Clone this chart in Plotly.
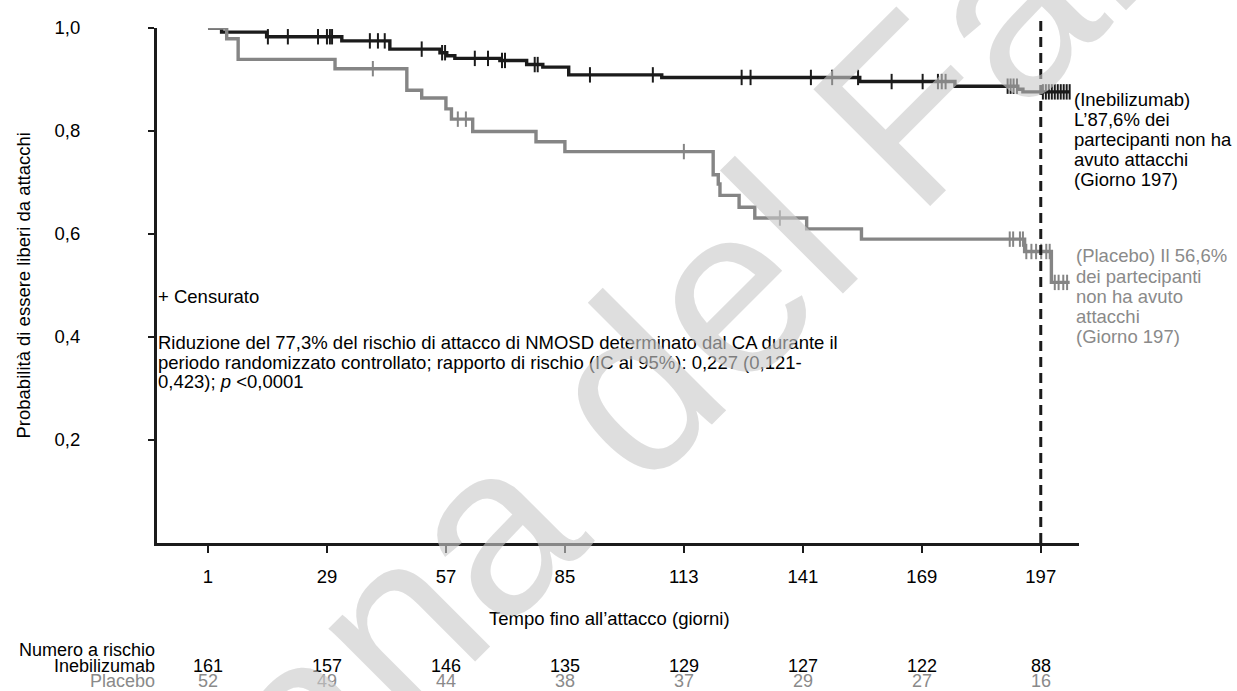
import numpy as np
import plotly.graph_objects as go

# ---------------- data ----------------
tick_days = [1, 29, 57, 85, 113, 141, 169, 197]
tick_labels = ["1", "29", "57", "85", "113", "141", "169", "197"]
y_ticks = [0.2, 0.4, 0.6, 0.8, 1.0]
y_tick_labels = ["0,2", "0,4", "0,6", "0,8", "1,0"]

start_day = 1
end_day = 203.8

ineb_event_days = [4.2, 14.8, 32.5, 43.8, 55.6, 57.2, 59.1, 69.7, 76.0, 79.8,
                   85.9, 107.8, 154.4, 176.8, 191.6, 192.8]
ineb_surv = [0.992, 0.983, 0.975, 0.959, 0.952, 0.946, 0.941, 0.937, 0.929, 0.924,
             0.909, 0.904, 0.896, 0.887, 0.881, 0.876]
ineb_censor_days = [15.1, 19.8, 26.9, 29.0, 29.7, 30.2, 39.1, 41.0, 42.6, 51.3,
                    56.1, 56.8, 63.8, 66.9, 70.2, 70.9, 77.9, 78.6, 90.9, 105.7,
                    126.6, 128.7, 142.9, 147.9, 154.0, 161.9, 169.2, 172.8, 173.7,
                    174.6, 189.2, 189.9, 190.6, 191.4, 197.5, 198.2, 198.9, 199.6,
                    200.3, 201.0, 201.7, 202.4, 203.1, 203.8]

plac_event_days = [5.4, 8.1, 30.9, 47.8, 51.3, 57.0, 58.3, 63.3, 78.2, 85.0,
                   119.9, 121.1, 121.5, 126.0, 129.7, 141.9, 154.8, 193.2, 199.5]
plac_surv = [0.979, 0.939, 0.921, 0.879, 0.864, 0.843, 0.823, 0.799, 0.779, 0.760,
             0.715, 0.697, 0.675, 0.652, 0.631, 0.610, 0.590, 0.566, 0.506]
plac_censor_days = [39.8, 59.8, 61.7, 113.0, 135.6, 189.7, 190.5, 192.1, 192.8,
                    193.6, 194.8, 195.9, 197.1, 198.3, 199.1,
                    200.3, 201.2, 202.3, 203.2]

at_risk_ineb = [161, 157, 146, 135, 129, 127, 122, 88]
at_risk_plac = [52, 49, 44, 38, 37, 29, 27, 16]

watermark_text = "Agenzia Italiana del Farmaco"

BLACK = "#1b1b1b"
GREY = "#858585"
GREY_TXT = "#8a8a8a"
FONT = "Liberation Sans, Arial, sans-serif"
FS = 18.5

# ---------------- layout geometry ----------------
W, H = 1237, 691
L, R, T, B = 157, 158, 28, 148
PW, PH = W - L - R, H - T - B


def px(xp):
    return (xp - L) / PW


def py(yp):
    return (H - B - yp) / PH


def steps(days, surv):
    xs = [start_day] + list(days) + [end_day]
    ys = [1.0] + list(surv) + [surv[-1]]
    return xs, ys


def surv_at(t, days, surv):
    idx = np.searchsorted(np.array(days), t, side="right")
    return 1.0 if idx == 0 else surv[idx - 1]


fig = go.Figure()

for days, surv, cens, col, name in [
    (ineb_event_days, ineb_surv, ineb_censor_days, BLACK, "Inebilizumab"),
    (plac_event_days, plac_surv, plac_censor_days, GREY, "Placebo"),
]:
    xs, ys = steps(days, surv)
    fig.add_trace(go.Scatter(x=xs, y=ys, mode="lines", line=dict(color=col, width=3.4, shape="hv"),
                             name=name, showlegend=False, hoverinfo="skip"))
    fig.add_trace(go.Scatter(x=cens, y=[surv_at(c, days, surv) for c in cens], mode="markers",
                             marker=dict(symbol="line-ns-open", size=11, color=col,
                                         line=dict(color=col, width=2)),
                             showlegend=False, hoverinfo="skip"))

# dashed line at day 197
fig.add_shape(type="line", xref="x", yref="paper", x0=197, x1=197, y0=0, y1=py(20),
              line=dict(color=BLACK, width=3, dash="10px,6px"))

ann = []


def text(x, y, s, color="black", xanchor="left", xref="paper", size=FS, **kw):
    ann.append(dict(x=x, y=y, xref=xref, yref="paper", text=s, showarrow=False,
                    xanchor=xanchor, yanchor="middle",
                    font=dict(family=FONT, size=size, color=color), **kw))


# left texts
text(px(156), py(296), "+ Censurato")
text(px(156), py(342), "Riduzione del 77,3% del rischio di attacco di NMOSD determinato dal CA durante il")
text(px(156), py(362), "periodo randomizzato controllato; rapporto di rischio (IC al 95%): 0,227 (0,121-")
text(px(156), py(381), "0,423); <i>p</i> &lt;0,0001")

# right texts
for i, s in enumerate(["(Inebilizumab)", "L’87,6% dei", "partecipanti non ha",
                       "avuto attacchi", "(Giorno 197)"]):
    text(px(1072), py(99 + 20.2 * i), s)
for i, s in enumerate(["(Placebo) Il 56,6%", "dei partecipanti", "non ha avuto",
                       "attacchi", "(Giorno 197)"]):
    text(px(1074), py(256 + 20 * i), s, color=GREY_TXT)

# axis titles
text(px(23), 0.5, "Probabilità di essere liberi da attacchi", xanchor="center", textangle=-90)
text(px(609), py(618), "Tempo fino all’attacco (giorni)", xanchor="center")

# numbers at risk table
TS = 18
text(px(157), py(650), "Numero a rischio", xanchor="right", size=TS)
text(px(157), py(666), "Inebilizumab", xanchor="right", size=TS)
text(px(157), py(681), "Placebo", xanchor="right", color=GREY_TXT, size=TS)
for d, a, b in zip(tick_days, at_risk_ineb, at_risk_plac):
    text(d, py(666), str(a), xanchor="center", xref="x", size=TS)
    text(d, py(681), str(b), xanchor="center", xref="x", color=GREY_TXT, size=TS)

# watermark (semi-transparent, on top, like the reference)
ann.append(dict(x=px(428), y=py(591), xref="paper", yref="paper", text=watermark_text,
                showarrow=False, xanchor="center", yanchor="middle", textangle=-45,
                font=dict(family=FONT, size=240, color="rgba(201,201,201,0.62)")))

fig.update_layout(
    width=W, height=H, autosize=False,
    margin=dict(l=L, r=R, t=T, b=B, pad=0),
    paper_bgcolor="white", plot_bgcolor="white",
    font=dict(family=FONT, size=FS, color="black"),
    annotations=ann,
    xaxis=dict(range=[-11, 206], tickvals=tick_days, ticktext=tick_labels,
               showline=True, linecolor=BLACK, linewidth=3, ticks="outside",
               ticklen=7, tickwidth=2, tickcolor=BLACK, showgrid=False, zeroline=False,
               ticklabelstandoff=8, automargin=False,
               tickfont=dict(family=FONT, size=FS, color="black")),
    yaxis=dict(range=[0, 1], tickvals=y_ticks, ticktext=y_tick_labels,
               showline=True, linecolor=BLACK, linewidth=3, ticks="outside",
               ticklen=6, tickwidth=2, tickcolor=BLACK, showgrid=False, zeroline=False,
               ticklabelstandoff=64, automargin=False,
               tickfont=dict(family=FONT, size=FS, color="black")),
)

fig.write_html("out.html", config={"displayModeBar": False},
               post_script="document.body.style.margin='0';document.body.style.overflow='hidden';")
